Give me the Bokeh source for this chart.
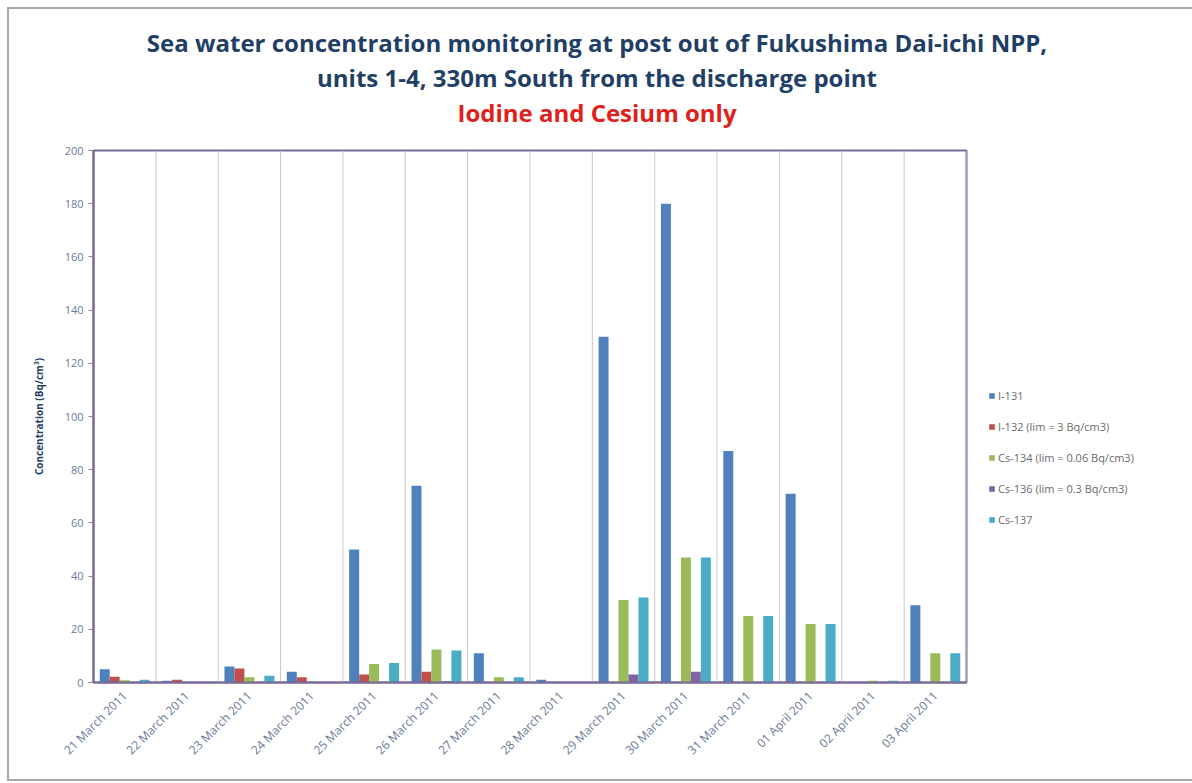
import math
from bokeh.plotting import figure
from bokeh.models import (FactorRange, Range1d, Legend, LegendItem, Title,
                          ColumnDataSource, SingleIntervalTicker)
from bokeh.transform import dodge
from bokeh.embed import file_html
from bokeh.resources import INLINE

dates = ["21 March 2011", "22 March 2011", "23 March 2011", "24 March 2011",
         "25 March 2011", "26 March 2011", "27 March 2011", "28 March 2011",
         "29 March 2011", "30 March 2011", "31 March 2011", "01 April 2011",
         "02 April 2011", "03 April 2011"]
i131 = [5, 0.7, 6, 4, 50, 74, 11, 1, 130, 180, 87, 71, 0, 29]
i132 = [2.2, 1, 5.3, 2, 3, 4, 0, 0, 0, 0, 0, 0, 0, 0]
cs134 = [0.8, 0, 2, 0, 7, 12.4, 2, 0, 31, 47, 25, 22, 0.7, 11]
cs136 = [0, 0, 0, 0, 0, 0.5, 0, 0, 3, 4, 0, 0, 0, 0]
cs137 = [1, 0, 2.5, 0, 7.3, 12, 2, 0, 32, 47, 25, 22, 0.7, 11]

series_names = ["I-131", "I-132 (lim = 3 Bq/cm3)", "Cs-134 (lim = 0.06 Bq/cm3)",
                "Cs-136 (lim = 0.3 Bq/cm3)", "Cs-137"]
series_keys = ["i131", "i132", "cs134", "cs136", "cs137"]
colors = ["#4F81BD", "#C0504D", "#9BBB59", "#8064A2", "#4BACC6"]
offsets = [-0.32, -0.16, 0.0, 0.16, 0.32]

title_lines = ["Sea water concentration monitoring at post out of Fukushima Dai-ichi NPP,",
               "units 1-4, 330m South from the discharge point",
               "Iodine and Cesium only"]

source = ColumnDataSource(dict(date=dates, i131=i131, i132=i132, cs134=cs134,
                               cs136=cs136, cs137=cs137,
                               top=[200] * len(dates), bottom=[0] * len(dates)))

title_color = "#1F3F66"
FONT = "Open Sans"

p = figure(frame_width=873, frame_height=532, output_backend="svg", toolbar_location=None,
           x_range=FactorRange(*dates, range_padding=0), y_range=Range1d(0, 200),
           min_border_left=84, min_border_right=226, min_border_bottom=97,
           min_border_top=141)
p.styles = {"border": "2px solid #a8a8a8", "box-sizing": "border-box",
            "margin": "7px 0 0 7px"}

# titles (stacked: first added is closest to plot)
for txt, col, pad_b in [(title_lines[2], "#E0201B", 22),
                        (title_lines[1], title_color, 0),
                        (title_lines[0], title_color, 0)]:
    p.add_layout(Title(text=txt, align="center", text_color=col, text_font=FONT,
                       text_font_size="24px", text_font_style="bold", standoff=0,
                       padding=dict(left=134, right=0, top=0, bottom=pad_b)), "above")

# vertical gridlines at category boundaries
p.segment(x0=dodge("date", 0.5, range=p.x_range), x1=dodge("date", 0.5, range=p.x_range),
          y0="bottom", y1="top", source=source, line_color="#c8c8c8", line_width=1)

renderers = []
for key, col, off in zip(series_keys, colors, offsets):
    r = p.vbar(x=dodge("date", off, range=p.x_range), top=key, width=0.16,
               source=source, fill_color=col, line_color=None)
    renderers.append(r)

legend = Legend(items=[LegendItem(label=n, renderers=[r]) for n, r in zip(series_names, renderers)],
                location="center_left", orientation="vertical",
                glyph_width=7, glyph_height=7, label_height=14,
                spacing=16, padding=0, margin=22, label_standoff=3,
                title=" ", title_text_font_size="10px", title_standoff=72,
                label_text_font=FONT, label_text_font_size="11px",
                label_text_color="#6b6b6b", background_fill_alpha=0,
                border_line_color=None)
p.add_layout(legend, "right")

p.xgrid.grid_line_color = None
p.ygrid.grid_line_color = None
p.outline_line_color = "#7a6a98"
p.outline_line_width = 2

ax_col = "#7a6a98"
p.yaxis.ticker = SingleIntervalTicker(interval=20)
p.yaxis.minor_tick_line_color = None
p.yaxis.major_tick_in = 0
p.yaxis.major_tick_out = 5
p.yaxis.axis_line_color = ax_col
p.yaxis.axis_line_width = 2
p.yaxis.major_tick_line_color = "#8a8a8a"
p.yaxis.major_label_text_font = FONT
p.yaxis.major_label_text_font_size = "11px"
p.yaxis.major_label_text_color = "#6b7a99"
p.yaxis.axis_label = "Concentration (Bq/cm\u00b3)"
p.yaxis.axis_label_text_font = FONT
p.yaxis.axis_label_text_font_size = "10px"
p.yaxis.axis_label_text_font_style = "bold"
p.yaxis.axis_label_text_color = title_color
p.yaxis.axis_label_standoff = 16

p.xaxis.axis_line_color = ax_col
p.xaxis.axis_line_width = 2
p.xaxis.major_tick_line_color = None
p.xaxis.major_label_orientation = math.pi / 4
p.xaxis.major_label_text_font = FONT
p.xaxis.major_label_text_font_size = "12px"
p.xaxis.major_label_text_color = "#6b7a99"

open("out.html", "w").write(file_html(p, INLINE))
